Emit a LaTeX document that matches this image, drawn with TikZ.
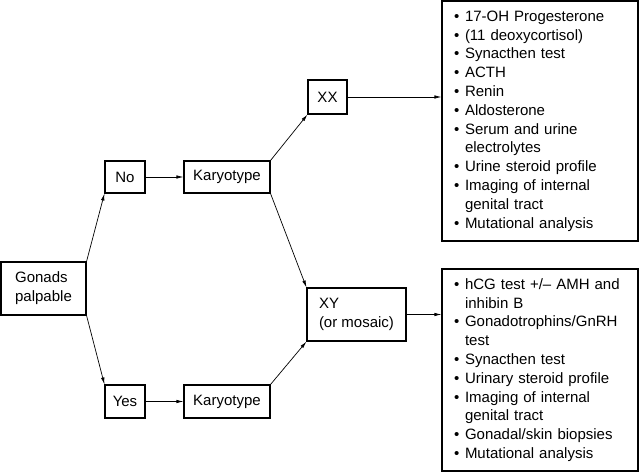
\documentclass[tikz,border=0pt]{standalone}
\usepackage{fontspec}
\setmainfont{Liberation Sans}
\usetikzlibrary{arrows.meta}

\tikzset{
  box/.style={draw, line width=1.1bp, inner sep=0pt, align=left},
  list/.style={draw, line width=1.1bp, inner xsep=12bp, inner ysep=0pt,
    text width=172bp, align=left},
  arr/.style={-{Latex[length=7bp,width=3.5bp]}, line width=0.7bp},
}
\newcommand{\bul}{\makebox[11bp][l]{\textbullet}}
\newcommand{\ind}{\hspace*{11bp}}

\begin{document}
\begin{tikzpicture}[x=1bp, y=-1bp, font=\fontsize{15bp}{18.8bp}\selectfont]
  \useasboundingbox (0,0) rectangle (640,473);

  \node[box, minimum width=85bp, minimum height=53bp] (gonads) at (43.5,288.5) {Gonads\\palpable};
  \node[box, minimum width=40bp, minimum height=32bp] (no) at (125,177) {No};
  \node[box, minimum width=40bp, minimum height=33bp] (yes) at (125,401.5) {Yes};
  \node[box, minimum width=86bp, minimum height=32bp] (karyno) at (227,177) {Karyotype};
  \node[box, minimum width=86bp, minimum height=33bp] (karyyes) at (227,401.5) {Karyotype};
  \node[box, minimum width=39bp, minimum height=34bp] (xx) at (327.5,97) {XX};
  \node[box, minimum width=99bp, minimum height=53bp] (xy) at (356.5,314.5) {XY\\(or mosaic)};

  \node[list, minimum height=240bp] (xxtests) at (540,121) {%
    \bul 17-OH Progesterone\\
    \bul (11 deoxycortisol)\\
    \bul Synacthen test\\
    \bul ACTH\\
    \bul Renin\\
    \bul Aldosterone\\
    \bul Serum and urine\\
    \ind electrolytes\\
    \bul Urine steroid profile\\
    \bul Imaging of internal\\
    \ind genital tract\\
    \bul Mutational analysis};

  \node[list, minimum height=202bp] (xytests) at (540,370) {%
    \bul hCG test +/-- AMH and\\
    \ind inhibin B\\
    \bul Gonadotrophins/GnRH\\
    \ind test\\
    \bul Synacthen test\\
    \bul Urinary steroid profile\\
    \bul Imaging of internal\\
    \ind genital tract\\
    \bul Gonadal/skin biopsies\\
    \bul Mutational analysis};

  \draw[arr] (gonads.north east) -- (no.south west);
  \draw[arr] (gonads.south east) -- (yes.north west);
  \draw[arr] (no) -- (karyno);
  \draw[arr] (yes) -- (karyyes);
  \draw[arr] (karyno.north east) -- (xx.south west);
  \draw[arr] (karyno.south east) -- (xy.north west);
  \draw[arr] (karyyes.north east) -- (xy.south west);
  \draw[arr] (xx.east) -- (xx.east -| xxtests.west);
  \draw[arr] (xy.east) -- (xytests.west |- xy.east);
\end{tikzpicture}
\end{document}
